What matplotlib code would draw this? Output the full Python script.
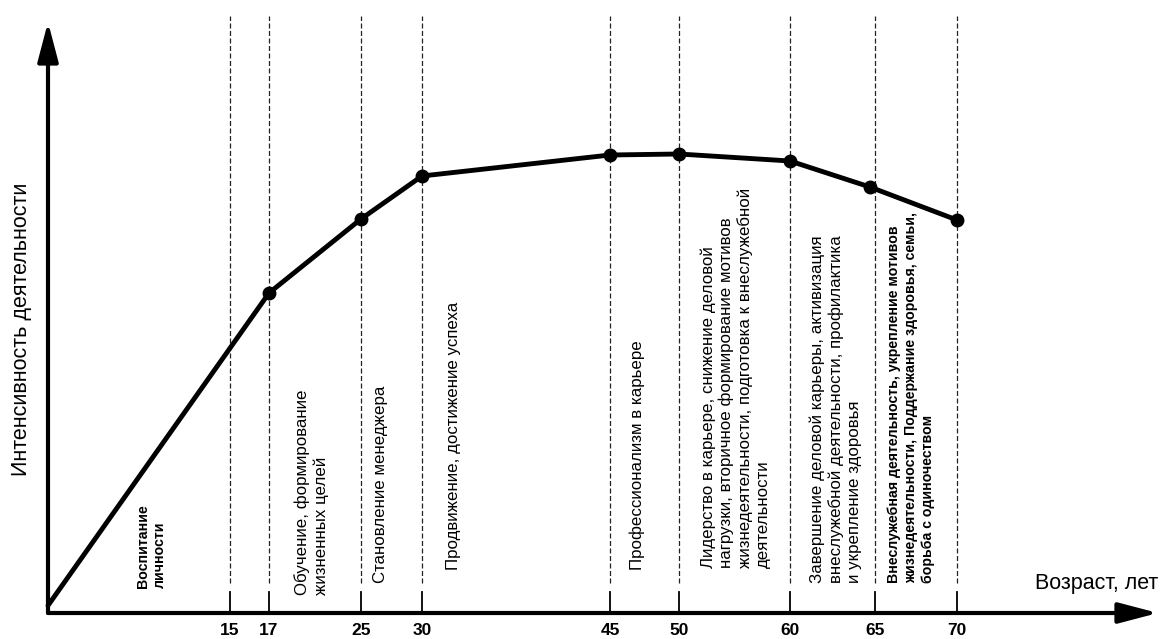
import numpy as np
import matplotlib
matplotlib.use("Agg")
import matplotlib.pyplot as plt

plt.rcParams['font.family'] = ['Liberation Sans', 'DejaVu Sans']

# Данные
ages = [0, 17, 25, 30, 45, 50, 60, 64.7, 70]
intensity = [1.5, 64, 78.8, 87.4, 91.6, 91.8, 90.4, 85.2, 78.6]
boundaries = [15, 17, 25, 30, 45, 50, 60, 65, 70]
tick_labels = ["15", "17", "25", "30", "45", "50", "60", "65", "70"]
stages = [
    "Воспитание\nличности",
    "Обучение, формирование\nжизненных целей",
    "Становление менеджера",
    "Продвижение, достижение успеха",
    "Профессионализм в карьере",
    "Лидерство в карьере, снижение деловой\nнагрузки, вторичное формирование мотивов\n"
    "жизнедеятельности, подготовка к внеслужебной\nдеятельности",
    "Завершение деловой карьеры, активизация\nвнеслужебной деятельности, профилактика\n"
    "и укрепление здоровья",
    "Внеслужебная деятельность, укрепление мотивов\nжизнедеятельности, Поддержание здоровья, семьи,\n"
    "борьба с одиночеством",
]

# размещение подписей этапов (x в годах, низ текста, жирность)
stage_x = [8.5, 20.7, 26.6, 32.5, 47.0, 55.1, 62.7, 67.2]
stage_y = [5, 3.6, 6, 8.6, 8.6, 9, 6, 6]
stage_bold = [True, False, False, False, False, False, False, True]

# неравномерная шкала возраста (как на схеме)
age_breaks = [0, 15, 17, 25, 30, 45, 50, 60, 65, 70, 82]
pix_breaks = [48, 230, 269, 361, 422, 610, 679, 790, 875, 957, 1158]


def fwd(a):
    return np.interp(a, age_breaks, pix_breaks)


def inv(p):
    return np.interp(p, pix_breaks, age_breaks)


fig = plt.figure(figsize=(11.62, 6.39), dpi=100)
ax = fig.add_axes([48 / 1162, (639 - 613) / 639, (1158 - 48) / 1162, (613 - 22) / 639])
ax.set_xscale('function', functions=(fwd, inv))
ax.set_xlim(0, 82)
ax.set_ylim(0, 118.2)
for s in ax.spines.values():
    s.set_visible(False)
ax.set_xticks([])
ax.set_yticks([])

# пунктирные границы этапов и короткие засечки
for b in boundaries:
    ax.plot([b, b], [6, 119.5], color='#222222', lw=0.9, ls=(0, (4, 2)), clip_on=False)
    ax.plot([b, b], [0.3, 4.3], color='black', lw=1.3, clip_on=False)

# оси со стрелками
arrow = dict(arrowstyle='-|>,head_length=1.6,head_width=0.42', lw=3, color='black',
             mutation_scale=15, shrinkA=0, shrinkB=0)
ax.annotate('', xy=(1, 0), xytext=(0, 0), xycoords='axes fraction', arrowprops=arrow)
ax.annotate('', xy=(0, 1), xytext=(0, 0), xycoords='axes fraction', arrowprops=arrow)

# кривая
ax.plot(ages, intensity, color='black', lw=3.5, solid_capstyle='round', zorder=3, clip_on=False)
ax.plot(ages[1:], intensity[1:], 'o', color='black', markersize=9, zorder=4)

# подписи возраста
for b, t in zip(boundaries, tick_labels):
    ax.text(b, -2.0, t, ha='center', va='top', fontsize=12.5, fontweight='bold', clip_on=False)

# подписи этапов
for txt, x, y, bold in zip(stages, stage_x, stage_y, stage_bold):
    ax.text(x, y, txt, rotation=90, ha='center', va='bottom', multialignment='left',
            fontsize=10.2 if bold else 12.2, fontweight='bold' if bold else 'normal',
            linespacing=1.25)

fig.text(22 / 1162, 1 - 329 / 639, "Интенсивность деятельности", rotation=90,
         ha='center', va='center', fontsize=15.5)
fig.text(1158 / 1162, 1 - 583 / 639, "Возраст, лет", ha='right', va='center', fontsize=15.5)

fig.savefig("out.png", dpi=100)
